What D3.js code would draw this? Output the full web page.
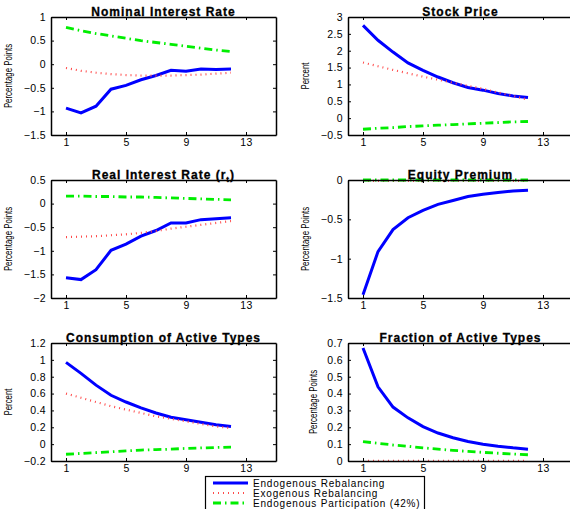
<!DOCTYPE html>
<html>
<head>
<meta charset="utf-8">
<script src="https://cdn.jsdelivr.net/npm/d3@7"></script>
<style>
  body { margin: 0; background: white; }
  text { font-family: "Liberation Sans", Arial, sans-serif; }
</style>
</head>
<body>
<script>
// horizon (quarters)
let periods = [1, 2, 3, 4, 5, 6, 7, 8, 9, 10, 11, 12]
let xTicks = [1, 5, 9, 13]

// Nominal Interest Rate
let nominalEndog = [-0.93, -1.03, -0.89, -0.53, -0.45, -0.33, -0.24, -0.13, -0.15, -0.10, -0.11, -0.10]
let nominalExog = [-0.08, -0.14, -0.18, -0.21, -0.23, -0.24, -0.24, -0.24, -0.23, -0.22, -0.20, -0.18]
let nominalPart = [0.78, 0.71, 0.65, 0.60, 0.55, 0.50, 0.46, 0.42, 0.38, 0.34, 0.30, 0.27]
let nominalTicks = [-1.5, -1, -0.5, 0, 0.5, 1]

// Stock Price
let stockEndog = [2.75, 2.31, 1.96, 1.64, 1.42, 1.22, 1.05, 0.91, 0.83, 0.73, 0.66, 0.61]
let stockExog = [1.65, 1.54, 1.43, 1.33, 1.23, 1.14, 1.05, 0.96, 0.87, 0.76, 0.66, 0.55]
let stockPart = [-0.33, -0.30, -0.28, -0.25, -0.23, -0.21, -0.19, -0.17, -0.15, -0.13, -0.11, -0.10]
let stockTicks = [-0.5, 0, 0.5, 1, 1.5, 2, 2.5, 3]

// Real Interest Rate
let realEndog = [-1.57, -1.61, -1.40, -0.99, -0.86, -0.69, -0.57, -0.41, -0.41, -0.34, -0.32, -0.30]
let realExog = [-0.71, -0.70, -0.69, -0.67, -0.65, -0.62, -0.58, -0.53, -0.49, -0.45, -0.41, -0.37]
let realPart = [0.16, 0.16, 0.15, 0.15, 0.14, 0.14, 0.13, 0.12, 0.11, 0.10, 0.09, 0.08]
let realTicks = [-2, -1.5, -1, -0.5, 0, 0.5]

// Equity Premium
let premiumEndog = [-1.46, -0.91, -0.63, -0.48, -0.386, -0.31, -0.26, -0.21, -0.18, -0.16, -0.14, -0.13]
let premiumExog = [-0.01, -0.01, -0.01, -0.01, -0.01, -0.01, -0.01, -0.01, -0.01, -0.01, -0.01, -0.01]
let premiumPart = [0, 0, 0, 0, 0, 0, 0, 0, 0, 0, 0, 0]
let premiumTicks = [-1.5, -1, -0.5, 0]

// Consumption of Active Types
let consEndog = [0.97, 0.84, 0.70, 0.58, 0.50, 0.43, 0.37, 0.32, 0.29, 0.26, 0.23, 0.21]
let consExog = [0.60, 0.55, 0.50, 0.45, 0.41, 0.37, 0.33, 0.30, 0.27, 0.24, 0.21, 0.19]
let consPart = [-0.12, -0.11, -0.10, -0.09, -0.08, -0.07, -0.065, -0.06, -0.05, -0.045, -0.04, -0.035]
let consTicks = [-0.2, 0, 0.2, 0.4, 0.6, 0.8, 1, 1.2]

// Fraction of Active Types
let fracEndog = [0.67, 0.44, 0.32, 0.256, 0.204, 0.166, 0.138, 0.116, 0.10, 0.088, 0.078, 0.07]
let fracExog = [0.001, 0.001, 0.001, 0.001, 0.001, 0.001, 0.001, 0.001, 0.001, 0.001, 0.001, 0.001]
let fracPart = [0.115, 0.105, 0.095, 0.087, 0.078, 0.07, 0.063, 0.057, 0.051, 0.046, 0.041, 0.037]
let fracTicks = [0, 0.1, 0.2, 0.3, 0.4, 0.5, 0.6, 0.7]

let seriesNames = ['Endogenous Rebalancing', 'Exogenous Rebalancing', 'Endogenous Participation (42%)']

let styles = [
    { color: '#0000ff', width: 3, dash: null },
    { color: '#ff4a4a', width: 2.2, dash: '1,4' },
    { color: '#00ee00', width: 2.8, dash: '8,4,1.5,4' }
]

let panels = [
    { title: 'Nominal Interest Rate', ylabel: 'Percentage Points', series: [nominalEndog, nominalExog, nominalPart], ticks: nominalTicks, left: 51, top: 17, labelX: -39 },
    { title: 'Stock Price', ylabel: 'Percent', series: [stockEndog, stockExog, stockPart], ticks: stockTicks, left: 348, top: 17, labelX: -39 },
    { title: 'Real Interest Rate (r', sub: 't', ylabel: 'Percentage Points', series: [realEndog, realExog, realPart], ticks: realTicks, left: 51, top: 180, labelX: -39 },
    { title: 'Equity Premium', ylabel: 'Percentage Points', series: [premiumEndog, premiumExog, premiumPart], ticks: premiumTicks, left: 348, top: 180, labelX: -39 },
    { title: 'Consumption of Active Types', ylabel: 'Percent', series: [consEndog, consExog, consPart], ticks: consTicks, left: 51, top: 343, labelX: -39 },
    { title: 'Fraction of Active Types', ylabel: 'Percentage Points', series: [fracEndog, fracExog, fracPart], ticks: fracTicks, left: 348, top: 343, labelX: -31 }
]

let panelWidth = 225
let panelHeight = 118

function fmt(d) {
    return String(d).replace('-', '\u2212')
}

let svg = d3.select('body').append('svg')
    .attr('width', 570)
    .attr('height', 509)

function drawPanel(p) {
    let g = svg.append('g').attr('transform', `translate(${p.left},${p.top})`)
    let x = d3.scaleLinear().domain([0, 15]).range([0, panelWidth])
    let y = d3.scaleLinear().domain(d3.extent(p.ticks)).range([panelHeight, 0])

    // lines first, box on top
    let line = d3.line().x((d, i) => x(periods[i])).y(d => y(d))
    p.series.forEach((s, k) => {
        g.append('path')
            .datum(s)
            .attr('d', line)
            .attr('fill', 'none')
            .attr('stroke', styles[k].color)
            .attr('stroke-width', styles[k].width)
            .attr('stroke-dasharray', styles[k].dash)
    })

    let bottom = g.append('g').attr('transform', `translate(0,${panelHeight})`)
        .call(d3.axisBottom(x).tickValues(xTicks).tickSize(-3).tickSizeOuter(0).tickPadding(4).tickFormat(fmt))
    let leftAx = g.append('g')
        .call(d3.axisLeft(y).tickValues(p.ticks).tickSize(-3).tickSizeOuter(0).tickPadding(5).tickFormat(fmt))
    let topAx = g.append('g')
        .call(d3.axisTop(x).tickValues(xTicks).tickSize(-3).tickSizeOuter(0).tickFormat(''))
    let rightAx = g.append('g').attr('transform', `translate(${panelWidth},0)`)
        .call(d3.axisRight(y).tickValues(p.ticks).tickSize(-3).tickSizeOuter(0).tickFormat(''))

    ;[bottom, leftAx, topAx, rightAx].forEach(a => {
        a.select('.domain').attr('stroke', '#000').attr('stroke-width', 1.5)
        a.selectAll('.tick line').attr('stroke', '#000')
        a.selectAll('text')
            .attr('fill', '#000')
            .style('font-size', '10.5px')
            .style('letter-spacing', '0.4px')
    })

    let t = g.append('text')
        .attr('x', panelWidth / 2)
        .attr('y', -1.5)
        .attr('text-anchor', 'middle')
        .style('font-size', '12px')
        .style('font-weight', 'bold')
        .style('letter-spacing', '1px')
        .style('stroke', '#000')
        .style('stroke-width', 0.3)
        .text(p.title)
    if (p.sub) {
        t.append('tspan').attr('dy', 3).style('font-size', '8px').text(p.sub)
        t.append('tspan').attr('dy', -3).text(')')
    }

    g.append('text')
        .attr('transform', `translate(${p.labelX},${panelHeight / 2}) rotate(-90) scale(0.75,1)`)
        .attr('text-anchor', 'middle')
        .style('font-size', '10.5px')
        .text(p.ylabel)
}

panels.forEach(drawPanel)

// legend
let legend = svg.append('g')
legend.append('rect')
    .attr('x', 205.5).attr('y', 476.5)
    .attr('width', 219).attr('height', 40)
    .attr('fill', 'white').attr('stroke', '#000').attr('stroke-width', 1.2)
seriesNames.forEach((name, k) => {
    let yy = 483 + k * 10
    legend.append('line')
        .attr('x1', 213).attr('x2', 248)
        .attr('y1', yy).attr('y2', yy)
        .attr('stroke', styles[k].color)
        .attr('stroke-width', styles[k].width)
        .attr('stroke-dasharray', styles[k].dash)
    legend.append('text')
        .attr('x', 253).attr('y', yy + 3.5)
        .style('font-size', '10px')
        .style('letter-spacing', '0.8px')
        .text(name)
})
</script>
</body>
</html>
